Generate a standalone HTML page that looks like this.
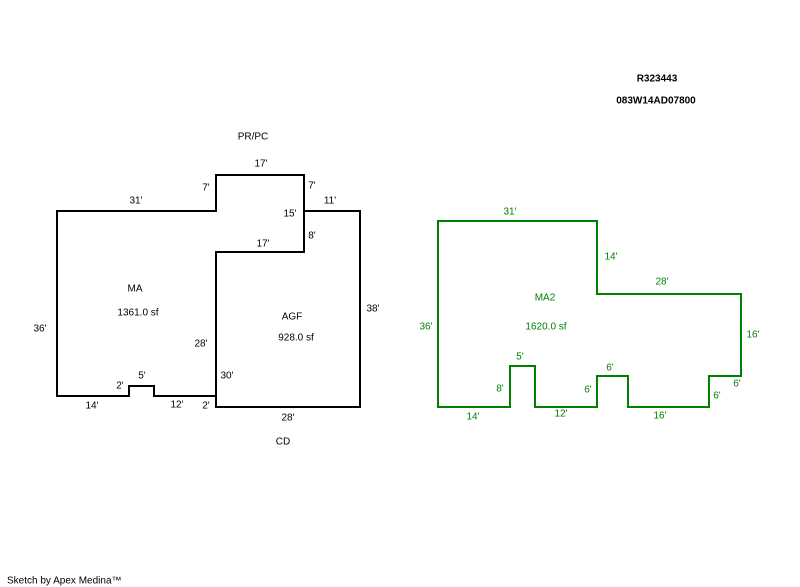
<!DOCTYPE html>
<html><head><meta charset="utf-8"><style>
html,body{margin:0;padding:0;background:#fff;}
svg{display:block;}
text{font-family:"Liberation Sans",Arial,sans-serif;font-size:10px;}
</style></head><body>
<svg width="800" height="587" viewBox="0 0 800 587" xmlns="http://www.w3.org/2000/svg">
<rect width="800" height="587" fill="#fff"/>
<g fill="none" stroke="#000" stroke-width="2" shape-rendering="crispEdges">
<polyline points="216,396 154,396 154,386 129,386 129,396 57,396 57,211 216,211 216,175 304,175 304,252 216,252 216,407 360,407 360,211 304,211"/>
</g>
<g fill="none" stroke="#008000" stroke-width="2" shape-rendering="crispEdges">
<polygon points="438,221 597,221 597,294 741,294 741,376 709,376 709,407 628,407 628,376 597,376 597,407 535,407 535,366 510,366 510,407 438,407"/>
</g>
<g fill="#000" text-anchor="middle" dominant-baseline="central">
<text x="253" y="137">PR/PC</text>
<text x="261" y="164">17'</text>
<text x="206" y="188">7'</text>
<text x="312" y="186">7'</text>
<text x="136" y="201">31'</text>
<text x="290" y="214">15'</text>
<text x="330" y="201">11'</text>
<text x="312" y="236">8'</text>
<text x="263" y="244">17'</text>
<text x="135" y="289">MA</text>
<text x="138" y="313">1361.0 sf</text>
<text x="40" y="329">36'</text>
<text x="292" y="317">AGF</text>
<text x="296" y="338">928.0 sf</text>
<text x="373" y="309">38'</text>
<text x="201" y="344">28'</text>
<text x="227" y="376">30'</text>
<text x="142" y="376">5'</text>
<text x="120" y="386">2'</text>
<text x="92" y="406">14'</text>
<text x="177" y="405">12'</text>
<text x="206" y="406">2'</text>
<text x="288" y="418">28'</text>
<text x="283" y="442">CD</text>
<text x="657" y="79" font-weight="bold">R323443</text>
<text x="656" y="101" font-weight="bold" font-size="11">083W14AD07800</text>
<text x="7" y="581" text-anchor="start" font-size="9">Sketch by Apex Medina™</text>
</g>
<g fill="#008000" text-anchor="middle" dominant-baseline="central">
<text x="510" y="212">31'</text>
<text x="611" y="257">14'</text>
<text x="662" y="282">28'</text>
<text x="545" y="298">MA2</text>
<text x="546" y="327">1620.0 sf</text>
<text x="426" y="327">36'</text>
<text x="753" y="335">16'</text>
<text x="520" y="357">5'</text>
<text x="610" y="368">6'</text>
<text x="500" y="389">8'</text>
<text x="588" y="390">6'</text>
<text x="737" y="384">6'</text>
<text x="717" y="396">6'</text>
<text x="473" y="417">14'</text>
<text x="561" y="414">12'</text>
<text x="660" y="416">16'</text>
</g>
</svg>
</body></html>
